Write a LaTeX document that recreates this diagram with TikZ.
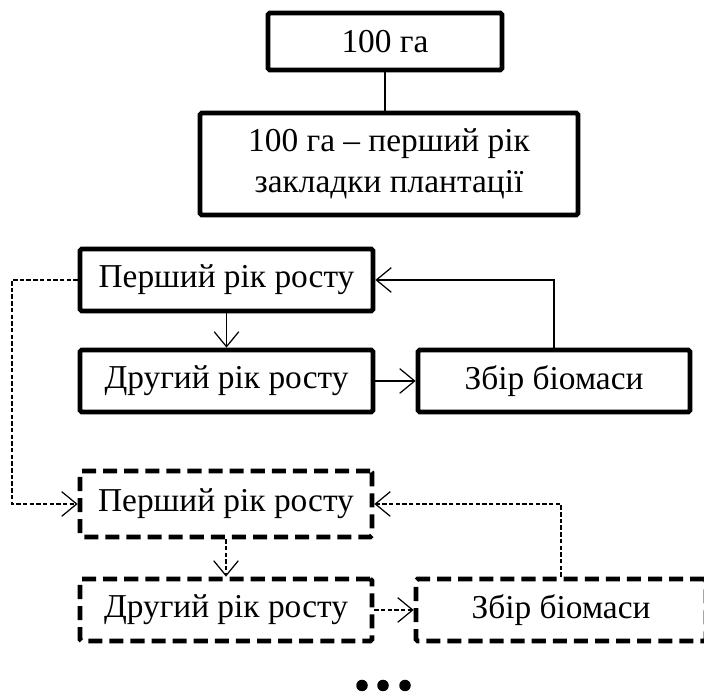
\documentclass[tikz,border=0pt]{standalone}
\usepackage{fontspec}
\setmainfont{Liberation Serif}
\usetikzlibrary{arrows.meta}
\begin{document}
\begin{tikzpicture}[every node/.style={font=\fontsize{19}{23.5}\selectfont}]
  \tikzstyle{stagebox}=[draw,line width=2.7pt,rounded corners=1pt,minimum height=1.24cm,align=center,inner sep=0pt]
  \tikzstyle{nextbox}=[stagebox,dash pattern=on 8pt off 4pt]
  \tikzstyle{link}=[line width=0.7pt,-{Straight Barb[length=8.5pt,width=14pt]}]
  \tikzstyle{nextlink}=[link,dash pattern=on 2.5pt off 1.3pt]
  \useasboundingbox (0,0) rectangle (14.08,13.84);
  \node[stagebox,minimum width=4.68cm,minimum height=1.14cm] (area) at (7.70,13.01) {100 га};
  \node[stagebox,minimum width=7.56cm,minimum height=2.04cm] (plant) at (7.78,10.56) {100 га – перший рік\\закладки плантації};
  \node[stagebox,minimum width=5.86cm] (year1) at (4.53,8.24) {Перший рік росту};
  \node[stagebox,minimum width=5.86cm] (year2) at (4.53,6.22) {Другий рік росту};
  \node[stagebox,minimum width=5.44cm] (harv) at (11.08,6.22) {Збір біомаси};
  \node[nextbox,minimum width=5.84cm,minimum height=1.32cm] (nyear1) at (4.52,3.76) {Перший рік росту};
  \node[nextbox,minimum width=5.84cm] (nyear2) at (4.52,1.64) {Другий рік росту};
  \node[nextbox,minimum width=5.80cm] (nharv) at (11.22,1.64) {Збір біомаси};
  \coordinate (bendL) at (0.24,8.24);
  \draw[line width=0.7pt] (area.south) -- (area.south |- plant.north);
  \draw[link] (year1) -- (year2); \draw[link] (year2) -- (harv);
  \draw[link] (harv.north) |- (year1.east);
  \draw[nextlink] (year1.west) -- (bendL) |- (nyear1.west);
  \draw[nextlink] (nyear1) -- (nyear2); \draw[nextlink] (nyear2) -- (nharv);
  \draw[nextlink] (nharv.north) |- (nyear1.east);
  \fill (7.24,0.13) circle (0.115); \fill (7.66,0.13) circle (0.115); \fill (8.10,0.13) circle (0.115);
\end{tikzpicture}
\end{document}
